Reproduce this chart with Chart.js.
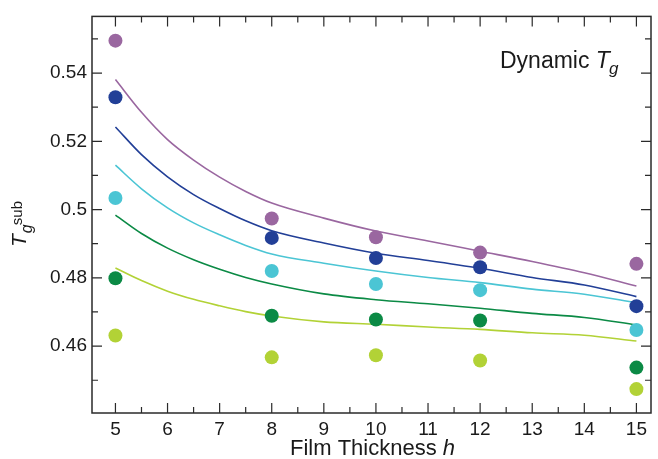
<!DOCTYPE html>
<html>
<head>
<meta charset="utf-8">
<script src="https://cdn.jsdelivr.net/npm/chart.js@4/dist/chart.umd.min.js"></script>
<style>
  html, body { margin: 0; padding: 0; background: #fff; }
  #wrap { width: 658px; height: 459px; }
</style>
</head>
<body>
<div id="wrap"><canvas id="chart"></canvas></div>
<script>
// film thickness values for the model curves and the simulation points
const hLine = [5, 5.5, 6, 6.5, 7, 7.5, 8, 9, 10, 11, 12, 13, 14, 15];
const hPoints = [5, 8, 10, 12, 15];

// model curves (lines)
const linePurple = [0.5381, 0.5285, 0.5205, 0.5145, 0.5095, 0.5053, 0.5019, 0.4975, 0.4937, 0.4908, 0.4878, 0.4848, 0.4815, 0.4776];
const lineBlue   = [0.5242, 0.5161, 0.5096, 0.5044, 0.5003, 0.4967, 0.4938, 0.4902, 0.4872, 0.4851, 0.4828, 0.4801, 0.4779, 0.4745];
const lineCyan   = [0.5130, 0.5061, 0.5005, 0.4961, 0.4926, 0.4895, 0.4870, 0.4843, 0.4820, 0.4801, 0.4786, 0.4767, 0.4752, 0.4727];
const lineGreen  = [0.4984, 0.4930, 0.4887, 0.4853, 0.4825, 0.4801, 0.4782, 0.4753, 0.4736, 0.4724, 0.4711, 0.4696, 0.4684, 0.4662];
const lineLime   = [0.4829, 0.4792, 0.4761, 0.4737, 0.4718, 0.4701, 0.4688, 0.4671, 0.4664, 0.4656, 0.4649, 0.4639, 0.4632, 0.4615];

// simulation points
const ptsPurple = [0.5495, 0.4974, 0.4919, 0.4874, 0.4841];
const ptsBlue   = [0.5329, 0.4917, 0.4858, 0.4831, 0.4717];
const ptsCyan   = [0.5034, 0.4820, 0.4782, 0.4764, 0.4647];
const ptsGreen  = [0.4799, 0.4689, 0.4678, 0.4675, 0.4537];
const ptsLime   = [0.4631, 0.4567, 0.4573, 0.4558, 0.4474];

// axis ticks
const xTicks = [5, 6, 7, 8, 9, 10, 11, 12, 13, 14, 15];
const xMinor = [5.5, 6.5, 7.5, 8.5, 9.5, 10.5, 11.5, 12.5, 13.5, 14.5];
const yTicks = [0.46, 0.48, 0.5, 0.52, 0.54];
const yMinor = [0.45, 0.47, 0.49, 0.51, 0.53, 0.55];

const colors = ['#9a67a0', '#223f97', '#4bc5d4', '#0b8a45', '#b2d236'];
const lines = [linePurple, lineBlue, lineCyan, lineGreen, lineLime];
const points = [ptsPurple, ptsBlue, ptsCyan, ptsGreen, ptsLime];

const FONT = "'Liberation Sans', Arial, Helvetica, sans-serif";
const INK = '#1a1a1a';

const datasets = [];
lines.forEach((vals, i) => {
  datasets.push({
    type: 'line',
    data: hLine.map((h, k) => ({x: h, y: vals[k]})),
    borderColor: colors[i],
    borderWidth: 1.6,
    pointRadius: 0,
    fill: false,
    cubicInterpolationMode: 'monotone',
    order: 2
  });
});
points.forEach((vals, i) => {
  datasets.push({
    type: 'scatter',
    data: hPoints.map((h, k) => ({x: h, y: vals[k]})),
    backgroundColor: colors[i],
    borderWidth: 0,
    pointRadius: 7,
    order: 1
  });
});

// frame with inward ticks on all four sides, plus the math-style labels
const framePlugin = {
  id: 'frame',
  afterDraw(chart) {
    const {ctx, chartArea: a, scales: {x, y}} = chart;
    ctx.save();
    ctx.strokeStyle = '#2a2a2a';
    ctx.lineWidth = 1.5;
    ctx.strokeRect(a.left, a.top, a.right - a.left, a.bottom - a.top);
    ctx.lineWidth = 1.2;
    ctx.beginPath();
    const tickX = (vals, len) => vals.forEach(v => {
      const px = x.getPixelForValue(v);
      ctx.moveTo(px, a.bottom); ctx.lineTo(px, a.bottom - len);
      ctx.moveTo(px, a.top); ctx.lineTo(px, a.top + len);
    });
    const tickY = (vals, len) => vals.forEach(v => {
      const py = y.getPixelForValue(v);
      ctx.moveTo(a.left, py); ctx.lineTo(a.left + len, py);
      ctx.moveTo(a.right, py); ctx.lineTo(a.right - len, py);
    });
    tickX(xTicks, 10); tickX(xMinor, 6);
    tickY(yTicks, 10); tickY(yMinor, 6);
    ctx.stroke();

    // y axis title: T_g^sub, rotated
    ctx.fillStyle = INK;
    ctx.textBaseline = 'alphabetic';
    ctx.textAlign = 'left';
    ctx.translate(26, 247);
    ctx.rotate(-Math.PI / 2);
    ctx.font = 'italic 21px ' + FONT;
    ctx.fillText('T', 0, 0);
    const tw = ctx.measureText('T').width;
    ctx.font = 'italic 16px ' + FONT;
    ctx.fillText('g', tw + 1, 6);
    ctx.font = '15px ' + FONT;
    ctx.fillText('sub', tw + 9, -4);
    ctx.restore();

    // x axis title: Film Thickness h
    ctx.save();
    ctx.fillStyle = INK;
    ctx.textBaseline = 'alphabetic';
    ctx.font = '22px ' + FONT;
    const part1 = 'Film Thickness ';
    const w1 = ctx.measureText(part1).width;
    ctx.font = 'italic 22px ' + FONT;
    const w2 = ctx.measureText('h').width;
    const x0 = (a.left + a.right) / 2 + 1 - (w1 + w2) / 2;
    ctx.font = '22px ' + FONT;
    ctx.fillText(part1, x0, 455);
    ctx.font = 'italic 22px ' + FONT;
    ctx.fillText('h', x0 + w1, 455);
    ctx.restore();

    // annotation: Dynamic T_g
    ctx.save();
    ctx.fillStyle = INK;
    ctx.textBaseline = 'alphabetic';
    ctx.font = '23px ' + FONT;
    ctx.fillText('Dynamic ', 500, 68);
    const dw = ctx.measureText('Dynamic ').width;
    ctx.font = 'italic 23px ' + FONT;
    ctx.fillText('T', 500 + dw, 68);
    const tw2 = ctx.measureText('T').width;
    ctx.font = 'italic 17px ' + FONT;
    ctx.fillText('g', 500 + dw + tw2 - 1, 74);
    ctx.restore();
  }
};

new Chart(document.getElementById('chart'), {
  data: {datasets},
  options: {
    responsive: true,
    maintainAspectRatio: false,
    animation: false,
    layout: {padding: {top: 16, right: 1, left: 0, bottom: 0}},
    plugins: {legend: {display: false}, tooltip: {enabled: false}},
    scales: {
      x: {
        type: 'linear',
        min: 4.55,
        max: 15.28,
        afterBuildTicks: (s) => { s.ticks = xTicks.map(v => ({value: v})); },
        afterFit: (s) => { s.height = 46; },
        grid: {display: false, drawTicks: false},
        border: {display: false},
        ticks: {color: INK, font: {family: FONT, size: 19}, padding: 5, maxRotation: 0}
      },
      y: {
        type: 'linear',
        min: 0.4404,
        max: 0.5566,
        afterBuildTicks: (s) => { s.ticks = yTicks.map(v => ({value: v})); },
        afterFit: (s) => { s.width = 92; },
        grid: {display: false, drawTicks: false},
        border: {display: false},
        ticks: {
          color: INK,
          font: {family: FONT, size: 19},
          padding: 5,
          callback: (v) => String(Number(v.toFixed(2)))
        }
      }
    }
  },
  plugins: [framePlugin]
});
</script>
</body>
</html>
